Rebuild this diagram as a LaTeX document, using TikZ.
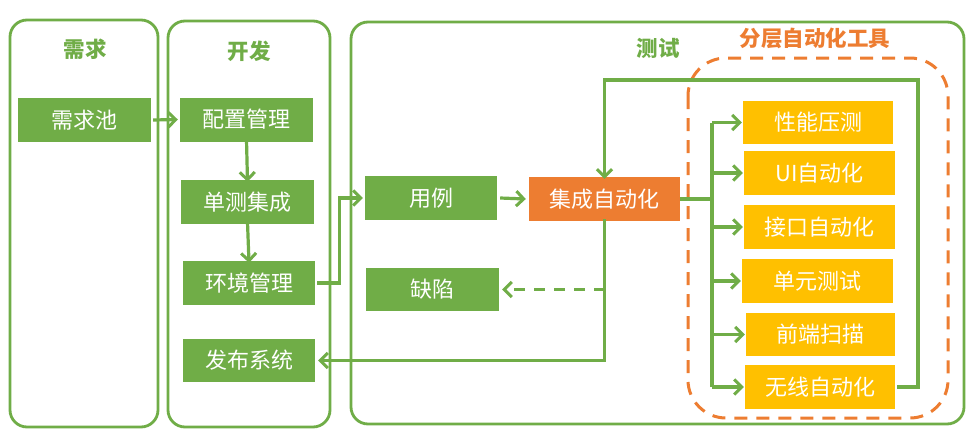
\documentclass[tikz,border=0pt]{standalone}
\usepackage{fontspec}
\setmainfont{Noto Sans CJK SC}
\usetikzlibrary{arrows.meta,calc}
\definecolor{gr}{HTML}{70AD47}
\definecolor{orng}{HTML}{ED7D31}
\definecolor{yel}{HTML}{FFC000}
\tikzset{
  panel/.style={draw=gr,line width=2.8pt,rounded corners=17pt},
  box/.style={fill=#1,text=white,inner sep=0pt,font=\fontsize{22}{26}\selectfont,minimum height=44pt},
  gbox/.style={box=gr,minimum width=133pt},
  ybox/.style={box=yel,minimum width=151pt},
  ttl/.style={font=\fontsize{21.5}{26}\selectfont\bfseries,text=gr},
  arr/.style={draw=gr,line width=3.2pt,-{Straight Barb[length=7.5pt,width=15pt,line width=3pt]}},
  ln/.style={draw=gr,line width=3.2pt},
}
\begin{document}
\begin{tikzpicture}[x=1pt,y=-1pt]
\useasboundingbox[fill=white] (0,0) rectangle (972,431);
% panels
\draw[panel] (10,20) rectangle (158,427);
\draw[panel] (168,21) rectangle (330,427);
\draw[panel] (351,22) rectangle (964,424);
\draw[draw=orng,line width=3pt,dash pattern=on 13pt off 9pt,rounded corners=38pt] (688,58) rectangle (948,418);
% titles
\node[ttl] (t1) at (85,49) {需求};
\node[ttl] (t2) at (249,51) {开发};
\node[ttl] (t3) at (658,48) {测试};
\node[ttl,text=orng] (t4) at (815,38) {分层自动化工具};
% boxes
\node[gbox] (req) at (84.5,120) {需求池};
\node[gbox] (cfg) at (246.5,119.5) {配置管理};
\node[gbox] (ut) at (247.5,202) {单测集成};
\node[gbox,minimum width=132pt] (env) at (249,283) {环境管理};
\node[gbox,minimum width=132pt,minimum height=43pt] (rel) at (249,360.5) {发布系统};
\node[gbox,minimum width=132pt] (case) at (431,198) {用例};
\node[gbox,minimum height=43pt] (bug) at (432.5,289.5) {缺陷};
\node[box=orng,minimum width=151pt] (int) at (604.5,199) {集成自动化};
\node[ybox,minimum width=150pt,minimum height=43pt] (perf) at (818,122.5) {性能压测};
\node[ybox] (ui) at (819.5,173) {UI自动化};
\node[ybox] (api) at (819.5,227) {接口自动化};
\node[ybox] (unit) at (817.5,281) {单元测试};
\node[ybox,minimum width=149pt,minimum height=43pt] (fe) at (820.5,334.5) {前端扫描};
\node[ybox,minimum width=150pt] (wl) at (820,387) {无线自动化};
\coordinate (bus) at (712,0);
\coordinate (top) at (918,80);
% connectors
\draw[arr] ([xshift=2pt]req.east) -- ([xshift=-2pt]cfg.west);
\draw[arr] ([yshift=2pt]cfg.south) -- ([yshift=-2pt]ut.north);
\draw[arr] ([yshift=2pt]ut.south) -- ([yshift=-2pt]env.north);
\draw[arr] ([xshift=2pt]env.east) -- ++(22,0) |- ([xshift=-2pt]case.west);
\draw[arr] ([xshift=3pt]case.east) -- ([xshift=-3pt]int.west);
\draw[arr] ([yshift=2pt]int.south) |- ([xshift=3pt]rel.east);
\draw[arr,dash pattern=on 11pt off 9pt] (int.south |- bug.east) -- ([xshift=3pt]bug.east);
\draw[ln] (int.east) -- (int.east -| bus);
\draw[ln] (bus |- perf.west) -- (bus |- wl.west);
\foreach \n in {perf,ui,api,unit,fe,wl}{
  \draw[arr] (bus |- \n.west) -- ([xshift=-1pt]\n.west);
}
\draw[arr] ([xshift=2pt]wl.east) -| (top) -| ([yshift=-2pt]int.north);
\end{tikzpicture}
\end{document}
